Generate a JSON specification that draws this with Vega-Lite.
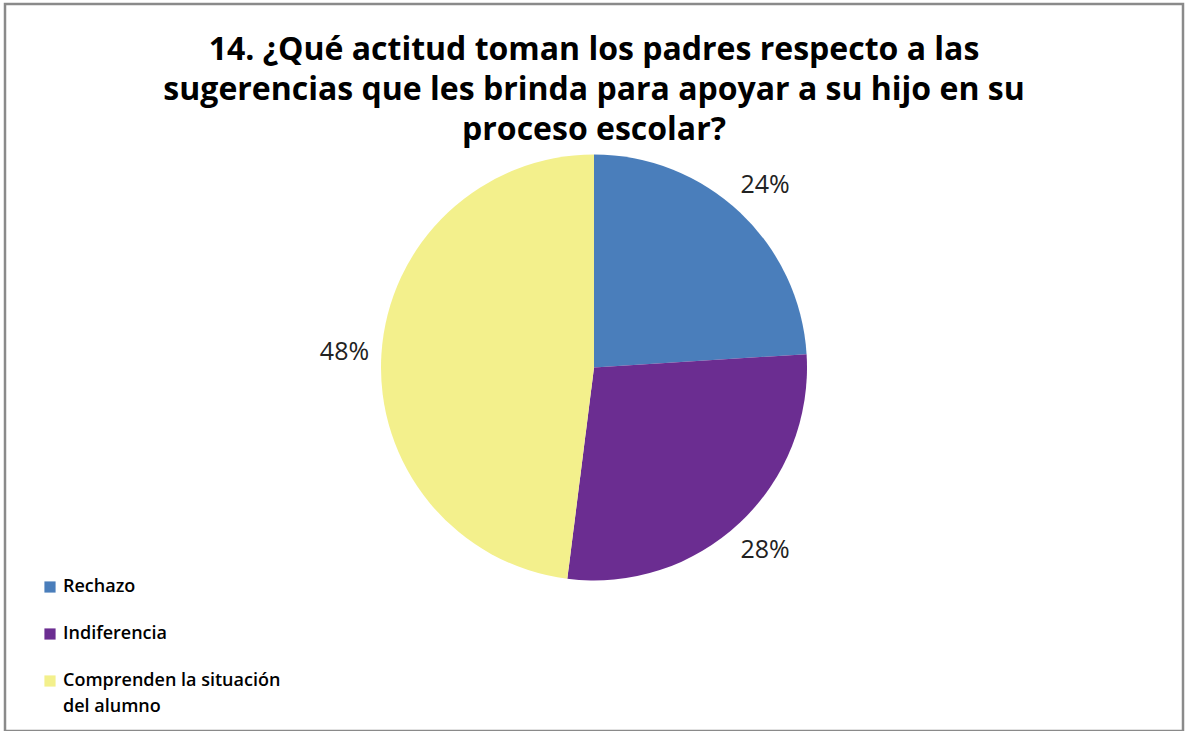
{
  "$schema": "https://vega.github.io/schema/vega-lite/v6.json",
  "width": 1186,
  "height": 731,
  "autosize": {"type": "fit", "contains": "padding"},
  "padding": {"left": 5, "top": 4, "right": 3, "bottom": 0},
  "background": "white",
  "view": {"stroke": "#8a8a8a", "strokeWidth": 2.5},
  "config": {
    "font": "Open Sans",
    "style": {"guide-label": {"lineHeight": 26}}
  },
  "title": {
    "text": [
      "14. ¿Qué actitud toman los padres respecto a las",
      "sugerencias que les brinda para apoyar a su hijo en su",
      "proceso escolar?"
    ],
    "font": "Open Sans",
    "fontSize": 32,
    "fontWeight": "bold",
    "color": "#000000",
    "lineHeight": 40,
    "anchor": "middle",
    "frame": "group",
    "offset": -143
  },
  "data": {
    "values": [
      {"categoria": "Rechazo", "porcentaje": 24, "etiqueta": "24%", "orden": 1},
      {"categoria": "Indiferencia", "porcentaje": 28, "etiqueta": "28%", "orden": 2},
      {"categoria": "Comprenden la situación del alumno", "porcentaje": 48, "etiqueta": "48%", "orden": 3}
    ]
  },
  "encoding": {
    "theta": {"field": "porcentaje", "type": "quantitative", "stack": true},
    "order": {"field": "orden", "type": "quantitative"}
  },
  "layer": [
    {
      "mark": {"type": "arc", "outerRadius": 213},
      "encoding": {
        "color": {
          "field": "categoria",
          "type": "nominal",
          "scale": {
            "domain": ["Rechazo", "Indiferencia", "Comprenden la situación del alumno"],
            "range": ["#4A7EBB", "#6B2D91", "#F3F08C"]
          },
          "legend": {
            "title": null,
            "orient": "none",
            "legendX": 36,
            "legendY": 574,
            "symbolType": "square",
            "symbolSize": 125,
            "symbolStrokeWidth": 0,
            "labelFont": "Open Sans",
            "labelFontSize": 18,
            "labelFontWeight": 600,
            "labelColor": "#000000",
            "labelLimit": 400,
            "rowPadding": 29,
            "labelExpr": "datum.label == 'Comprenden la situación del alumno' ? ['Comprenden la situación', 'del alumno'] : datum.label"
          }
        }
      }
    },
    {
      "mark": {"type": "text", "radius": 250, "font": "Open Sans", "fontSize": 25, "fill": "#222222"},
      "encoding": {
        "text": {"field": "etiqueta", "type": "nominal"},
        "detail": {"field": "categoria", "type": "nominal"}
      }
    }
  ]
}
